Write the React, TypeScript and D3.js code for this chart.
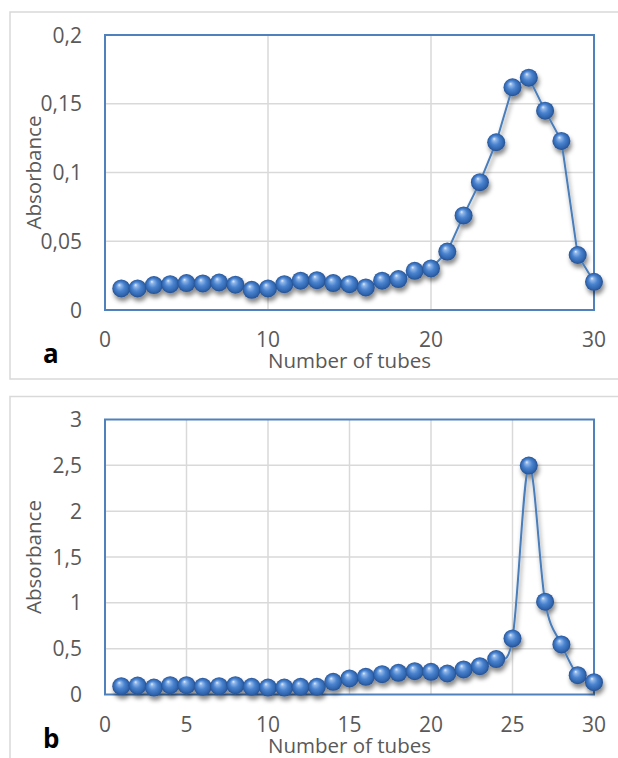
import React from 'react';
import * as d3 from 'd3';

const tubes = d3.range(1, 31);

const absorbanceA = [
    0.0157, 0.0157, 0.0181, 0.0188, 0.0196, 0.0193, 0.02, 0.0184, 0.0147, 0.0157,
    0.0188, 0.0213, 0.0217, 0.0196, 0.0188, 0.0164, 0.0213, 0.0225, 0.0285, 0.0302,
    0.0425, 0.0688, 0.093, 0.122, 0.162, 0.169, 0.145, 0.123, 0.04, 0.0205,
];

const absorbanceB = [
    0.091, 0.098, 0.076, 0.102, 0.102, 0.084, 0.091, 0.102, 0.084, 0.076,
    0.076, 0.084, 0.084, 0.138, 0.175, 0.193, 0.222, 0.237, 0.255, 0.248,
    0.229, 0.273, 0.309, 0.386, 0.612, 2.497, 1.012, 0.546, 0.211, 0.135,
];

const xTicksA = [0, 10, 20, 30];
const yTicksA = [0, 0.05, 0.1, 0.15, 0.2];
const xTicksB = [0, 5, 10, 15, 20, 25, 30];
const yTicksB = [0, 0.5, 1, 1.5, 2, 2.5, 3];

const FONT = '"Open Sans", sans-serif';
const fmt = v => String(v).replace('.', ',');

function Panel({ id, top, values, xTicks, yTicks, yMax, letter, smooth }) {
    const left = 105;
    const right = 594;
    const plotTop = top + 23;
    const plotBottom = top + 298;

    const x = d3.scaleLinear().domain([0, 30]).range([left, right]);
    const y = d3.scaleLinear().domain([0, yMax]).range([plotBottom, plotTop]);

    const line = d3
        .line()
        .x((d, i) => x(tubes[i]))
        .y(d => y(d))
        .curve(smooth ? d3.curveCardinal.tension(0) : d3.curveLinear);

    return (
        <g>
            <rect x={10} y={top} width={700} height={367} fill="#fff" stroke="#d9d9d9" strokeWidth={1.5} />
            {xTicks.slice(1, -1).map(t => (
                <line key={'gx' + t} x1={x(t)} x2={x(t)} y1={plotTop} y2={plotBottom} stroke="#d9d9d9" strokeWidth={1.5} />
            ))}
            {yTicks.slice(1, -1).map(t => (
                <line key={'gy' + t} x1={left} x2={right} y1={y(t)} y2={y(t)} stroke="#d9d9d9" strokeWidth={1.5} />
            ))}
            <rect x={left} y={plotTop} width={right - left} height={plotBottom - plotTop} fill="none" stroke="#4f81bd" strokeWidth={2} />

            {yTicks.map(t => (
                <text key={'ty' + t} x={82} y={y(t) + 7.5} textAnchor="end" fontFamily={FONT} fontSize={21} fill="#595959">
                    {fmt(t)}
                </text>
            ))}
            {xTicks.map(t => (
                <text key={'tx' + t} x={x(t)} y={plotBottom + 37} textAnchor="middle" fontFamily={FONT} fontSize={21} fill="#595959">
                    {fmt(t)}
                </text>
            ))}
            <text x={(left + right) / 2} y={plotBottom + 58} textAnchor="middle" fontFamily={FONT} fontSize={20.5} fill="#595959">
                Number of tubes
            </text>
            <text
                transform={`translate(41,${(plotTop + plotBottom) / 2}) rotate(-90)`}
                textAnchor="middle"
                fontFamily={FONT}
                fontSize={20.5}
                fill="#595959"
            >
                Absorbance
            </text>
            <text x={43} y={plotBottom + 53} fontFamily={FONT} fontSize={26} fontWeight="bold" fill="#000">
                {letter}
            </text>

            <g filter="url(#shadow)">
                <path d={line(values)} fill="none" stroke="#4a7ebb" strokeWidth={2} />
                {values.map((v, i) => (
                    <circle key={id + i} cx={x(tubes[i])} cy={y(v)} r={9} fill="url(#sphere)" />
                ))}
            </g>
        </g>
    );
}

export default function App() {
    return (
        <svg width={618} height={758} style={{ position: 'absolute', left: 0, top: 0 }}>
            <defs>
                <radialGradient id="sphere" cx="0.5" cy="0.5" r="0.5" fx="0.38" fy="0.3">
                    <stop offset="0%" stopColor="#e3eefb" />
                    <stop offset="18%" stopColor="#8fb6e9" />
                    <stop offset="50%" stopColor="#4a83cf" />
                    <stop offset="85%" stopColor="#2f64ad" />
                    <stop offset="100%" stopColor="#264f8f" />
                </radialGradient>
                <filter id="shadow" x="-10%" y="-10%" width="120%" height="130%">
                    <feDropShadow dx={1.5} dy={4} stdDeviation={2.2} floodColor="#000" floodOpacity={0.45} />
                </filter>
            </defs>
            <rect width={618} height={758} fill="#fff" />
            <Panel id="a" top={12} values={absorbanceA} xTicks={xTicksA} yTicks={yTicksA} yMax={0.2} letter="a" smooth={false} />
            <Panel id="b" top={396.5} values={absorbanceB} xTicks={xTicksB} yTicks={yTicksB} yMax={3} letter="b" smooth={true} />
        </svg>
    );
}
